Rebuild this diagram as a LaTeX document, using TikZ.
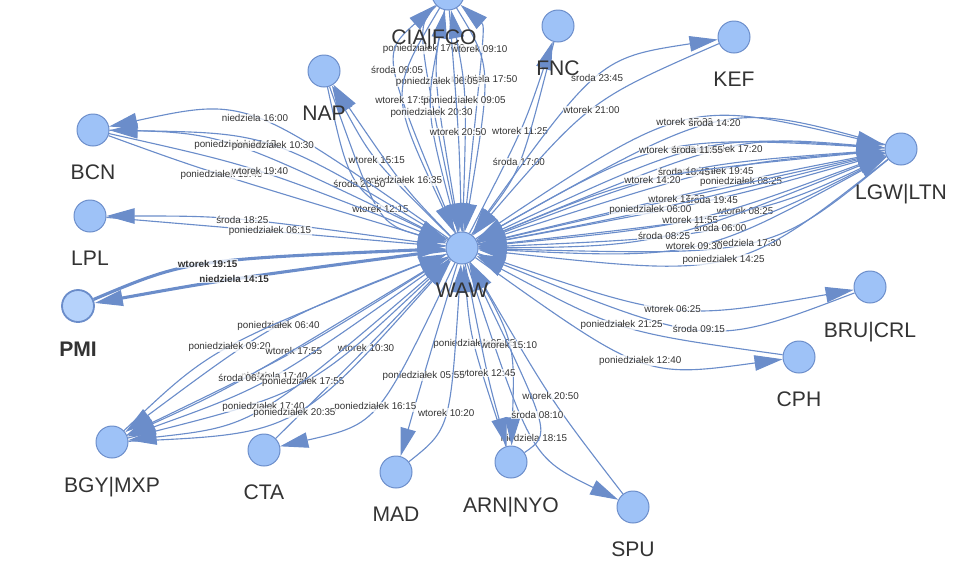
\documentclass[tikz,border=0pt]{standalone}
\usepackage{fontspec}
\setmainfont{Liberation Sans}
\usepackage{tikz}
\usetikzlibrary{arrows.meta,positioning}
\definecolor{edgeblue}{HTML}{6B8DCA}
\definecolor{nodeblue}{HTML}{9EC2F7}
\definecolor{hotblue}{HTML}{B5D2FB}
\definecolor{textdark}{HTML}{333333}

\begin{document}
\begin{tikzpicture}[
  x=0.025cm,y=-0.025cm,
  apt/.style={circle,draw=edgeblue,fill=nodeblue,line width=0.7pt,
              minimum size=0.8cm,inner sep=0pt},
  hot/.style={apt,fill=hotblue,line width=1.3pt},
  aptname/.style={font=\fontsize{15}{18}\selectfont,text=textdark,inner sep=0pt},
  arr/.style={-{Triangle[length=20pt,width=11pt]},edgeblue,line width=0.8pt},
  thk/.style={line width=2.2pt},
  lbl/.style={font=\fontsize{7}{8}\selectfont,text=textdark,
              fill=white,fill opacity=0.75,text opacity=1,inner sep=0.4pt}
]
\useasboundingbox (0,0) rectangle (960,561);

% airports
\node[apt] (waw) at (462,248) {};
\node[apt] (cia) at (448,-6) {};
\node[apt] (fnc) at (558,26) {};
\node[apt] (kef) at (734,37) {};
\node[apt] (nap) at (324,71) {};
\node[apt] (bcn) at (93,130) {};
\node[apt] (lpl) at (90,216) {};
\node[hot] (pmi) at (78,306) {};
\node[apt] (lgw) at (901,149) {};
\node[apt] (bru) at (870,287) {};
\node[apt] (cph) at (799,357) {};
\node[apt] (spu) at (633,507) {};
\node[apt] (arn) at (511,462) {};
\node[apt] (mad) at (396,472) {};
\node[apt] (cta) at (264,450) {};
\node[apt] (bgy) at (112,442) {};

% CIA|FCO
\draw[arr] (cia) .. controls (416,26) .. (waw) node[lbl,midway] {poniedziałek 17:50};
\draw[arr] (waw) .. controls (485,26) .. (cia) node[lbl,midway] {wtorek 09:10};
\draw[arr] (waw) .. controls (381,54) .. (cia) node[lbl,midway] {środa 09:05};
\draw[arr] (cia) .. controls (492,66) .. (waw) node[lbl,midway] {niedziela 17:50};
\draw[arr] (cia) .. controls (432,69) .. (waw) node[lbl,midway] {poniedziałek 06:05};
\draw[arr] (cia) .. controls (389,93) .. (waw) node[lbl,midway] {wtorek 17:55};
\draw[arr] (waw) .. controls (467,94) .. (cia) node[lbl,midway] {poniedziałek 09:05};
\draw[arr] (waw) .. controls (425,110) .. (cia) node[lbl,midway] {poniedziałek 20:30};
\draw[arr] (cia) .. controls (459,136) .. (waw) node[lbl,midway] {wtorek 20:50};

% FNC, KEF
\draw[arr] (waw) .. controls (523,129) .. (fnc) node[lbl,midway] {wtorek 11:25};
\draw[arr] (fnc) .. controls (521,170) .. (waw) node[lbl,midway] {środa 17:00};
\draw[arr] (waw) .. controls (598,58) .. (kef) node[lbl,midway] {środa 23:45};
\draw[arr] (kef) .. controls (590,100) .. (waw) node[lbl,midway] {wtorek 21:00};

% NAP
\draw[arr] (waw) .. controls (372,159) .. (nap) node[lbl,midway] {wtorek 15:15};
\draw[arr] (waw) .. controls (404,188) .. (nap) node[lbl,midway] {poniedziałek 16:35};
\draw[arr] (nap) .. controls (350,191) .. (waw) node[lbl,midway] {środa 20:50};
\draw[arr] (nap) .. controls (378,223) .. (waw) node[lbl,midway] {wtorek 12:15};

% BCN, LPL, PMI
\draw[arr] (waw) .. controls (247,97) .. (bcn) node[lbl,midway] {niedziela 16:00};
\draw[arr] (bcn) .. controls (221,132) .. (waw) node[lbl,midway] {poniedziałek 16:15};
\draw[arr] (waw) .. controls (271,133) .. (bcn) node[lbl,midway] {poniedziałek 10:30};
\draw[arr] (bcn) .. controls (203,170) .. (waw) node[lbl,midway] {poniedziałek 19:40};
\draw[arr] (bcn) .. controls (254,166) .. (waw) node[lbl,midway] {wtorek 19:40};
\draw[arr] (waw) .. controls (231,216) .. (lpl) node[lbl,midway] {środa 18:25};
\draw[arr] (lpl) .. controls (268,231) .. (waw) node[lbl,midway] {poniedziałek 06:15};
\draw[arr,thk] (pmi) .. controls (187,260) .. (waw) node[lbl,midway,font=\fontsize{7}{8}\selectfont\bfseries] {wtorek 19:15};
\draw[arr,thk] (waw) .. controls (222,280) .. (pmi) node[lbl,midway,font=\fontsize{7}{8}\selectfont\bfseries] {niedziela 14:15};

% LGW|LTN
\draw[arr] (waw) .. controls (686,98) .. (lgw) node[lbl,midway] {wtorek 07:20};
\draw[arr] (lgw) .. controls (726,100) .. (waw) node[lbl,midway] {środa 14:20};
\draw[arr] (waw) .. controls (735,135) .. (lgw) node[lbl,midway] {poniedziałek 17:20};
\draw[arr] (lgw) .. controls (663,135) .. (waw) node[lbl,midway] {wtorek 09:55};
\draw[arr] (waw) .. controls (703,135) .. (lgw) node[lbl,midway] {środa 11:55};
\draw[arr] (waw) .. controls (723,164) .. (lgw) node[lbl,midway] {poniedziałek 19:45};
\draw[arr] (lgw) .. controls (685,164) .. (waw) node[lbl,midway] {środa 18:45};
\draw[arr] (lgw) .. controls (643,174) .. (waw) node[lbl,midway] {wtorek 14:20};
\draw[arr] (waw) .. controls (761,176) .. (lgw) node[lbl,midway] {poniedziałek 08:25};
\draw[arr] (waw) .. controls (675,199) .. (lgw) node[lbl,midway] {wtorek 17:25};
\draw[arr] (lgw) .. controls (722,200) .. (waw) node[lbl,midway] {środa 19:45};
\draw[arr] (waw) .. controls (640,214) .. (lgw) node[lbl,midway] {poniedziałek 06:00};
\draw[arr] (lgw) .. controls (766,214) .. (waw) node[lbl,midway] {wtorek 08:25};
\draw[arr] (waw) .. controls (693,226) .. (lgw) node[lbl,midway] {wtorek 11:55};
\draw[arr] (lgw) .. controls (733,236) .. (waw) node[lbl,midway] {środa 06:00};
\draw[arr] (waw) .. controls (658,247) .. (lgw) node[lbl,midway] {środa 08:25};
\draw[arr] (lgw) .. controls (770,256) .. (waw) node[lbl,midway] {niedziela 17:30};
\draw[arr] (waw) .. controls (698,260) .. (lgw) node[lbl,midway] {wtorek 09:30};
\draw[arr] (lgw) .. controls (737,278) .. (waw) node[lbl,midway] {poniedziałek 14:25};

% BRU|CRL, CPH, SPU
\draw[arr] (waw) .. controls (675,321) .. (bru) node[lbl,midway] {wtorek 06:25};
\draw[arr] (bru) .. controls (710,348) .. (waw) node[lbl,midway] {środa 09:15};
\draw[arr] (cph) .. controls (619,332) .. (waw) node[lbl,midway] {poniedziałek 21:25};
\draw[arr] (waw) .. controls (644,378) .. (cph) node[lbl,midway] {poniedziałek 12:40};
\draw[arr] (spu) .. controls (552,402) .. (waw) node[lbl,midway] {wtorek 20:50};
\draw[arr] (waw) .. controls (531,457) .. (spu) node[lbl,midway] {niedziela 18:15};

% ARN|NYO, MAD, CTA
\draw[arr] (arn) .. controls (471,340) .. (waw) node[lbl,midway] {poniedziałek 05:55};
\draw[arr] (waw) .. controls (515,342) .. (arn) node[lbl,midway] {wtorek 15:10};
\draw[arr] (waw) .. controls (488,379) .. (arn) node[lbl,midway] {wtorek 12:45};
\draw[arr] (arn) .. controls (551,434) .. (waw) node[lbl,midway] {środa 08:10};
\draw[arr] (waw) .. controls (422,381) .. (mad) node[lbl,midway] {poniedziałek 05:55};
\draw[arr] (mad) .. controls (450,429) .. (waw) node[lbl,midway] {wtorek 10:20};
\draw[arr] (cta) .. controls (367,348) .. (waw) node[lbl,midway] {wtorek 10:30};
\draw[arr] (waw) .. controls (378,424) .. (cta) node[lbl,midway] {poniedziałek 16:15};

% BGY|MXP
\draw[arr] (waw) .. controls (276,320) .. (bgy) node[lbl,midway] {poniedziałek 06:40};
\draw[arr] (bgy) .. controls (211,348) .. (waw) node[lbl,midway] {poniedziałek 09:20};
\draw[arr] (waw) .. controls (296,353) .. (bgy) node[lbl,midway] {wtorek 17:55};
\draw[arr] (waw) .. controls (270,385) .. (bgy) node[lbl,midway] {niedziela 17:40};
\draw[arr] (bgy) .. controls (230,389) .. (waw) node[lbl,midway] {środa 06:40};
\draw[arr] (bgy) .. controls (308,393) .. (waw) node[lbl,midway] {poniedziałek 17:55};
\draw[arr] (waw) .. controls (255,426) .. (bgy) node[lbl,midway] {poniedziałek 17:40};
\draw[arr] (bgy) .. controls (296,434) .. (waw) node[lbl,midway] {poniedziałek 20:35};

% names, on top of the edges
\node[aptname,below=0.46cm of waw] (wawtxt) {WAW};
\node[aptname,below=0.46cm of cia,xshift=-0.35cm] (ciatxt) {CIA|FCO};
\node[aptname,below=0.46cm of fnc] (fnctxt) {FNC};
\node[aptname,below=0.46cm of kef] (keftxt) {KEF};
\node[aptname,below=0.46cm of nap] (naptxt) {NAP};
\node[aptname,below=0.46cm of bcn] (bcntxt) {BCN};
\node[aptname,below=0.46cm of lpl] (lpltxt) {LPL};
\node[aptname,font=\fontsize{15}{18}\selectfont\bfseries,below=0.46cm of pmi] (pmitxt) {PMI};
\node[aptname,below=0.46cm of lgw] (lgwtxt) {LGW|LTN};
\node[aptname,below=0.46cm of bru] (brutxt) {BRU|CRL};
\node[aptname,below=0.46cm of cph] (cphtxt) {CPH};
\node[aptname,below=0.46cm of spu] (sputxt) {SPU};
\node[aptname,below=0.46cm of arn] (arntxt) {ARN|NYO};
\node[aptname,below=0.46cm of mad] (madtxt) {MAD};
\node[aptname,below=0.46cm of cta] (ctatxt) {CTA};
\node[aptname,below=0.46cm of bgy] (bgytxt) {BGY|MXP};
\end{tikzpicture}
\end{document}
